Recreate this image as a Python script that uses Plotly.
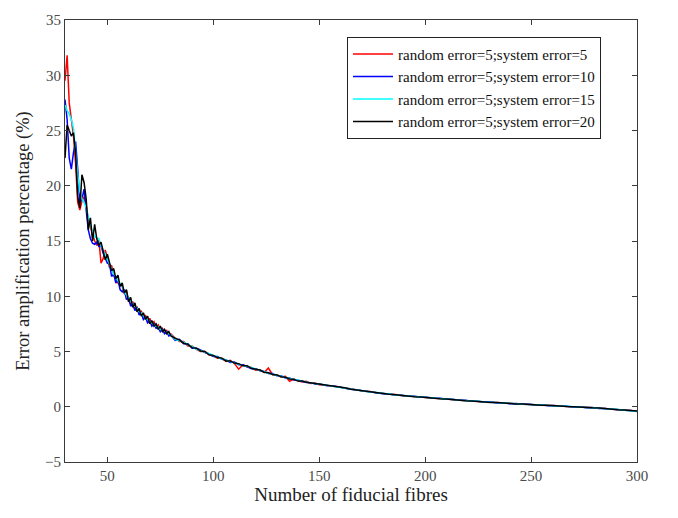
import plotly.graph_objects as go

fibres = [30, 31, 32, 33, 34, 35, 36, 37, 38, 39, 40, 41, 42, 43, 44, 45, 46, 47, 48, 49,
          50, 51, 52, 53, 54, 55, 56, 57, 58, 59, 60, 61, 62, 63, 64, 65, 66, 67, 68, 69,
          70, 71, 72, 73, 74, 75, 76, 77, 78, 79, 80,
          82, 84, 86, 88, 90, 92, 94, 96, 98, 100, 102, 104, 106, 108, 110, 112, 114, 116, 118,
          120, 122, 124, 126, 128, 130, 132, 134, 136, 138, 140, 142, 144, 146, 148, 150,
          153, 156, 159, 162, 165, 168, 171, 174, 177, 180, 183, 186, 189, 192, 195, 198,
          201, 204, 207, 210, 213, 216, 219, 222, 225, 228, 231, 234, 237, 240, 243, 246, 249,
          252, 255, 258, 261, 264, 267, 270, 273, 276, 279, 282, 285, 288, 291, 294, 297, 300]

err_sys5 = [29.5, 31.8, 27.5, 26.0, 24.5, 22.0, 18.5, 17.8, 18.6, 19.0, 18.2, 17.0, 16.2, 15.6, 15.0, 14.6,
            15.1, 13.0, 13.4, 14.2, 13.5, 12.6, 12.8, 11.9, 11.6, 11.2, 11.0, 10.9, 10.2, 10.5, 9.6,
            9.3, 9.5, 8.8, 9.0, 8.4, 8.7, 8.0, 8.3, 7.7, 8.0, 7.5, 7.7, 7.2, 7.4, 6.9, 7.1, 6.7, 6.9,
            6.5, 6.6,
            6.2, 5.9, 5.9, 5.5, 5.5, 5.2, 5.0, 5.0, 4.7, 4.6, 4.4, 4.4, 4.1, 4.2, 3.9, 3.4, 3.8, 3.6,
            3.55, 3.3, 3.35, 3.1, 3.5, 2.9, 2.9, 2.7, 2.75, 2.3, 2.5, 2.35, 2.25, 2.3, 2.1, 2.15, 2.0,
            1.95, 1.85, 1.82, 1.68, 1.62, 1.5, 1.4, 1.37, 1.26, 1.22, 1.12, 1.1, 1.0, 0.98, 0.9, 0.88,
            0.82, 0.8, 0.72, 0.71, 0.64, 0.62, 0.55, 0.53, 0.47, 0.45, 0.39, 0.38, 0.33, 0.31, 0.26,
            0.25, 0.2, 0.19, 0.14, 0.13, 0.08, 0.07, 0.02, 0.01, -0.04, -0.05, -0.1, -0.12, -0.18,
            -0.2, -0.27, -0.29, -0.36, -0.39]

err_sys10 = [27.8, 26.0, 22.5, 21.5, 23.0, 24.0, 21.5, 18.5, 18.8, 19.7, 17.8, 16.0, 15.2, 14.8, 14.7, 14.9,
             14.5, 14.6, 13.9, 13.4, 13.0, 12.9, 11.8, 12.0, 11.2, 11.5, 10.6, 10.4, 10.6, 9.7, 9.9,
             9.1, 9.3, 8.7, 9.0, 8.3, 8.5, 7.9, 8.1, 7.6, 7.8, 7.3, 7.5, 7.1, 7.2, 6.8, 7.0, 6.6, 6.8,
             6.4, 6.5,
             6.0, 6.1, 5.7, 5.7, 5.3, 5.3, 5.15, 4.9, 4.8, 4.55, 4.55, 4.3, 4.25, 4.0, 4.05, 3.8, 3.8,
             3.6, 3.45, 3.45, 3.25, 3.2, 3.0, 3.0, 2.8, 2.8, 2.6, 2.6, 2.42, 2.4, 2.28, 2.2, 2.18, 2.05,
             2.08,
             1.93, 1.9, 1.78, 1.72, 1.58, 1.52, 1.43, 1.33, 1.3, 1.18, 1.16, 1.06, 1.04, 0.95, 0.94,
             0.85, 0.85, 0.77, 0.76, 0.68, 0.67, 0.58, 0.58, 0.5, 0.5, 0.42, 0.42, 0.35, 0.36, 0.28,
             0.29, 0.22, 0.23, 0.16, 0.17, 0.1, 0.11, 0.04, 0.05, -0.02, -0.01, -0.08, -0.07, -0.15,
             -0.15, -0.23, -0.24, -0.32, -0.33, -0.42]

err_sys15 = [27.3, 26.8, 26.5, 26.0, 25.2, 23.0, 21.0, 19.5, 18.8, 18.5, 18.0, 17.2, 16.4, 15.8, 15.4, 15.3,
             15.2, 14.6, 14.2, 13.8, 13.4, 13.0, 12.5, 12.0, 11.8, 11.4, 11.1, 10.9, 10.4, 10.1, 9.8,
             9.5, 9.3, 9.1, 8.9, 8.6, 8.5, 8.2, 8.0, 7.9, 7.7, 7.6, 7.4, 7.3, 7.2, 7.0, 6.9, 6.9, 6.7,
             6.6, 6.5,
             6.1, 6.0, 5.85, 5.6, 5.45, 5.2, 5.1, 4.95, 4.8, 4.62, 4.48, 4.35, 4.22, 4.1, 3.98, 3.88,
             3.72, 3.66, 3.52, 3.4, 3.28, 3.17, 3.04, 2.96, 2.84, 2.76, 2.64, 2.56, 2.46, 2.34, 2.32,
             2.24, 2.16, 2.1, 2.04,
             1.96, 1.86, 1.81, 1.69, 1.61, 1.49, 1.43, 1.34, 1.29, 1.19, 1.15, 1.07, 1.03, 0.96, 0.93,
             0.86, 0.84, 0.78, 0.75, 0.69, 0.66, 0.59, 0.57, 0.51, 0.49, 0.43, 0.41, 0.36, 0.35, 0.29,
             0.28, 0.23, 0.22, 0.17, 0.16, 0.11, 0.1, 0.05, 0.04, -0.01, -0.02, -0.07, -0.08, -0.14,
             -0.16, -0.22, -0.25, -0.31, -0.34, -0.41]

err_sys20 = [22.5, 25.5, 25.0, 24.5, 24.8, 23.0, 19.0, 18.0, 21.0, 20.3, 18.8, 16.0, 17.1, 15.0, 16.5, 15.2,
             14.6, 14.9, 14.1, 13.3, 13.8, 13.1, 12.3, 12.5, 11.6, 11.9, 10.9, 11.2, 10.3, 10.6, 9.5,
             9.9, 9.0, 9.4, 8.6, 8.9, 8.2, 8.5, 7.9, 8.2, 7.5, 7.8, 7.3, 7.5, 7.0, 7.3, 6.8, 7.0, 6.6,
             6.8, 6.4,
             6.2, 6.05, 5.75, 5.65, 5.35, 5.3, 5.05, 5.0, 4.7, 4.65, 4.45, 4.4, 4.15, 4.15, 3.95, 3.9,
             3.7, 3.7, 3.48, 3.42, 3.32, 3.12, 3.08, 2.92, 2.88, 2.72, 2.68, 2.52, 2.48, 2.32, 2.33,
             2.22, 2.17, 2.08, 2.06,
             1.94, 1.88, 1.79, 1.71, 1.59, 1.51, 1.41, 1.36, 1.27, 1.21, 1.13, 1.09, 1.01, 0.98, 0.91,
             0.88, 0.82, 0.8, 0.73, 0.71, 0.64, 0.61, 0.55, 0.53, 0.47, 0.45, 0.39, 0.38, 0.33, 0.31,
             0.26, 0.25, 0.2, 0.19, 0.14, 0.13, 0.08, 0.07, 0.02, 0.01, -0.04, -0.05, -0.1, -0.12,
             -0.18, -0.2, -0.27, -0.29, -0.36, -0.39]

series_names = ["random error=5;system error=5", "random error=5;system error=10",
                "random error=5;system error=15", "random error=5;system error=20"]
series_values = [err_sys5, err_sys10, err_sys15, err_sys20]
series_colors = ["#ff0000", "#0000ff", "#00ffff", "#000000"]

x_ticks = [50, 100, 150, 200, 250, 300]
y_ticks = [-5, 0, 5, 10, 15, 20, 25, 30, 35]

fig = go.Figure()
for name, vals, col in zip(series_names, series_values, series_colors):
    fig.add_trace(go.Scatter(x=fibres, y=vals, mode="lines", name=name,
                             line=dict(color=col, width=1.5)))

axis_common = dict(showline=True, linecolor="#3a3a3a", linewidth=1, mirror="ticks",
                   ticks="inside", ticklen=5, tickcolor="#3a3a3a", showgrid=False,
                   zeroline=False, tickfont=dict(family="Liberation Serif", size=15, color="#4a4a4a"))

fig.update_layout(
    width=678, height=518,
    margin=dict(l=65, r=41, t=12, b=56),
    plot_bgcolor="white", paper_bgcolor="white",
    font=dict(family="Liberation Serif", color="#222222"),
    xaxis=dict(range=[30, 300], tickvals=x_ticks,
               title=dict(text="Number of fiducial fibres", font=dict(size=19), standoff=2),
               **axis_common),
    yaxis=dict(range=[-5, 35], tickvals=y_ticks,
               title=dict(text="Error amplification percentage (%)", font=dict(size=18.5), standoff=10),
               **axis_common),
    legend=dict(x=0.493, y=0.962, xanchor="left", yanchor="top",
                bgcolor="white", bordercolor="#222222", borderwidth=1,
                font=dict(family="Liberation Serif", size=15, color="#111111"),
                tracegroupgap=0, itemwidth=40),
    showlegend=True,
)

fig.write_html("out.html", config={"displayModeBar": False},
               post_script="document.body.style.margin='0px';")
